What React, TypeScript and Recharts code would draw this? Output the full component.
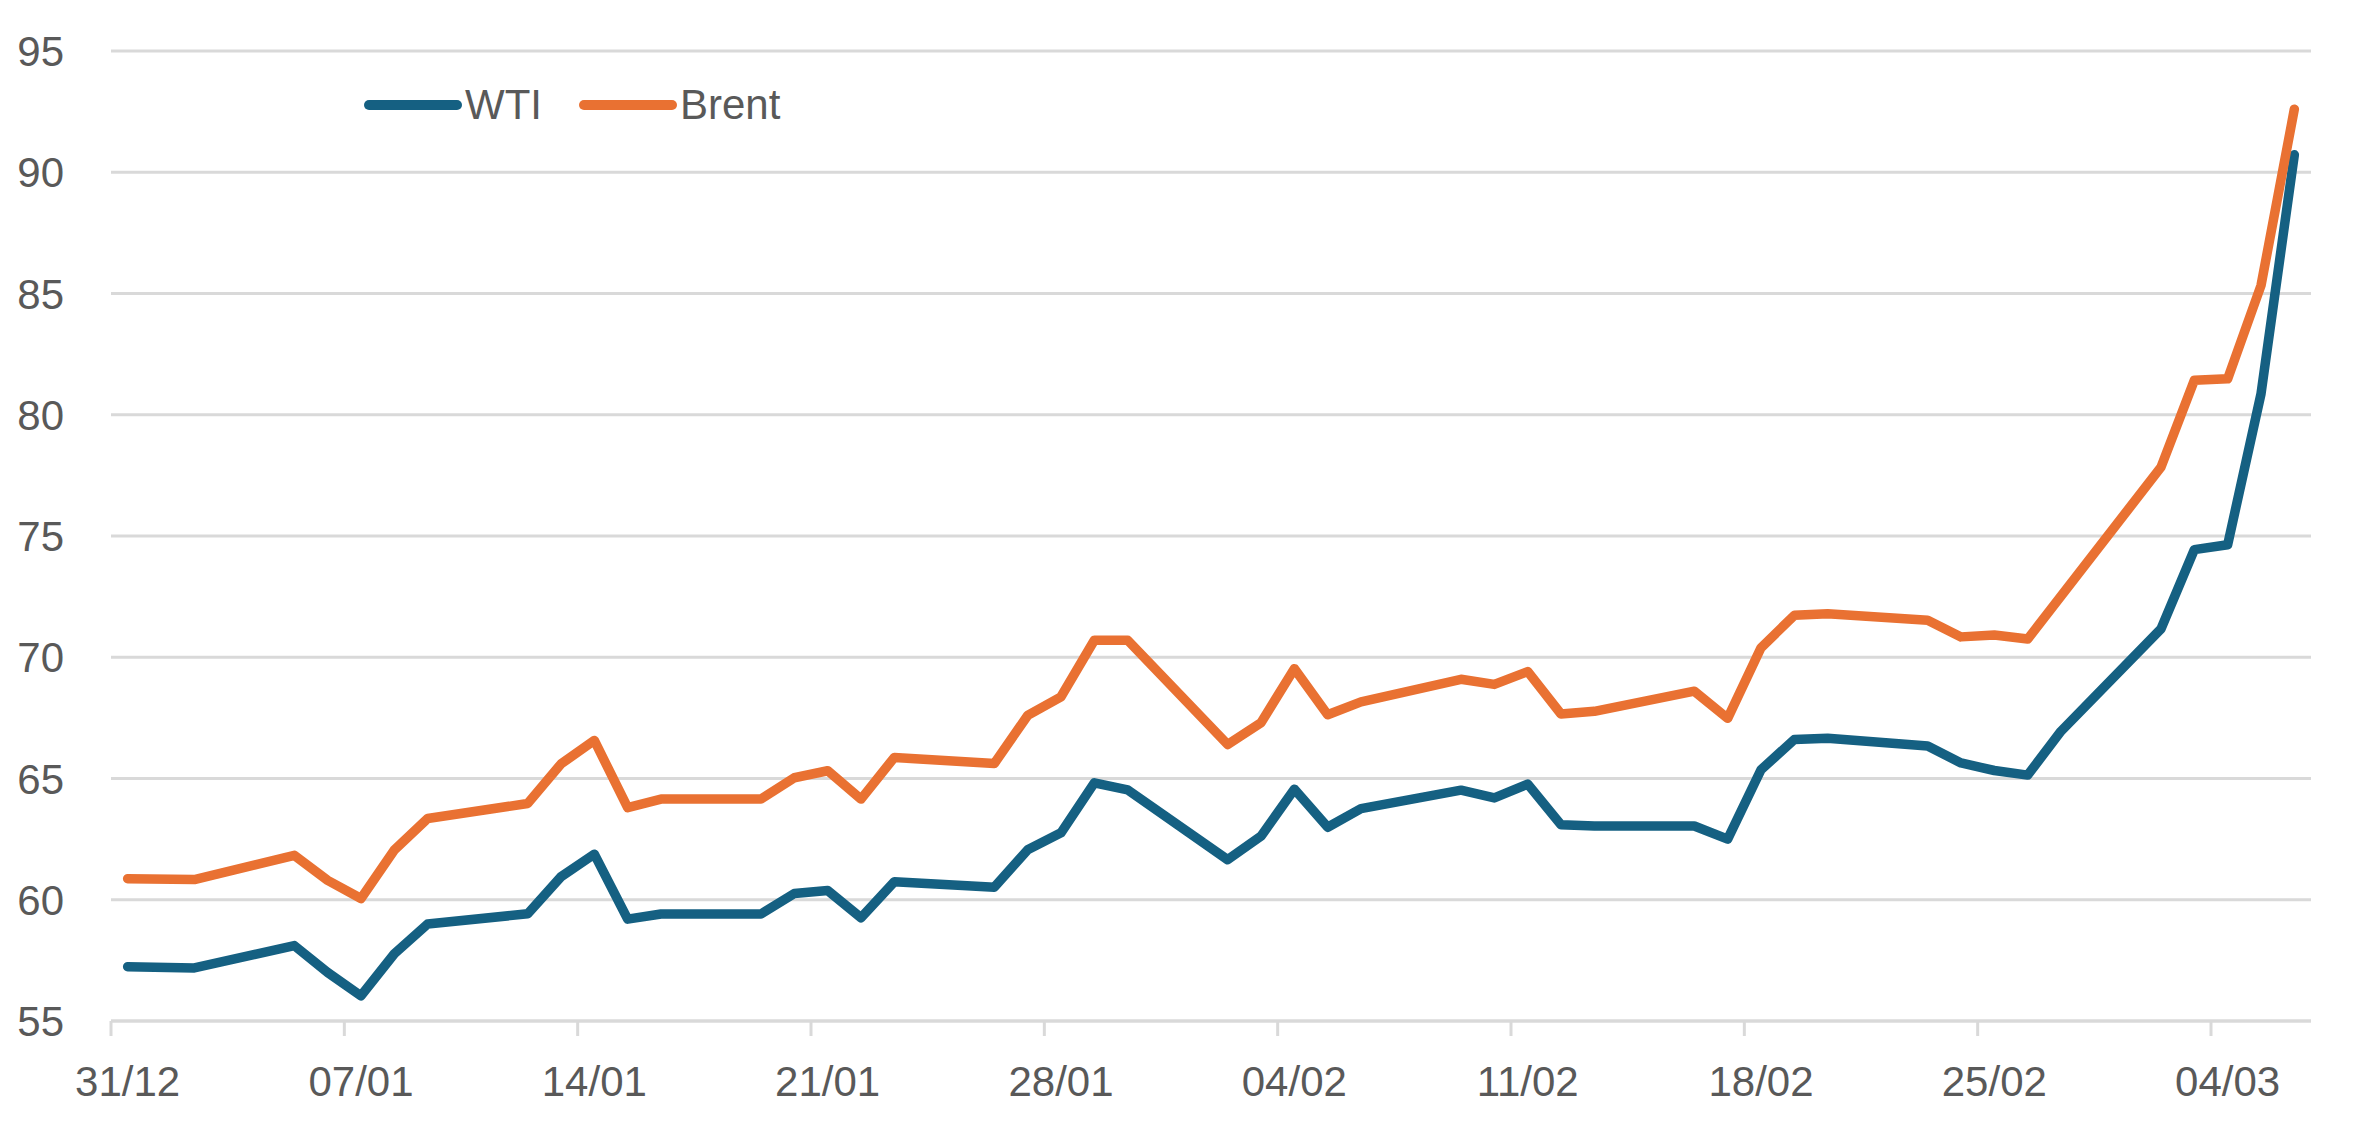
import React from 'react';
import { LineChart, Line, XAxis, YAxis, CartesianGrid, Legend } from 'recharts';

// trading days, counted from 31/12
const dayIndex = [
  0, 2, 5, 6, 7, 8, 9, 12, 13, 14, 15, 16, 19, 20, 21, 22, 23, 26, 27, 28, 29, 30, 33, 34,
  35, 36, 37, 40, 41, 42, 43, 44, 47, 48, 49, 50, 51, 54, 55, 56, 57, 58, 61, 62, 63, 64, 65,
];

const wti = [
  57.24, 57.19, 58.11, 57.0, 56.04, 57.77, 59.0, 59.42, 60.95, 61.88, 59.2, 59.41, 59.41, 60.26,
  60.38, 59.26, 60.74, 60.52, 62.06, 62.76, 64.82, 64.53, 61.65, 62.62, 64.56, 62.99, 63.76,
  64.52, 64.2, 64.77, 63.09, 63.04, 63.04, 62.5, 65.36, 66.61, 66.66, 66.34, 65.64, 65.33,
  65.14, 66.95, 71.17, 74.44, 74.64, 80.86, 90.72,
];

const brent = [
  60.87, 60.83, 61.83, 60.8, 60.05, 62.05, 63.35, 63.97, 65.6, 66.57, 63.8, 64.15, 64.15, 65.03,
  65.32, 64.15, 65.87, 65.62, 67.6, 68.37, 70.7, 70.7, 66.4, 67.3, 69.53, 67.63, 68.16,
  69.09, 68.88, 69.41, 67.66, 67.77, 68.6, 67.48, 70.39, 71.73, 71.79, 71.53, 70.84, 70.92,
  70.75, null, 77.84, 81.42, 81.48, 85.33, 92.6,
];

const seriesNames = ['WTI', 'Brent'];
const seriesColors = ['#156082', '#E97132'];

const tickDays = [0, 7, 14, 21, 28, 35, 42, 49, 56, 63];
const tickLabels = ['31/12', '07/01', '14/01', '21/01', '28/01', '04/02', '11/02', '18/02', '25/02', '04/03'];
const yTicks = [55, 60, 65, 70, 75, 80, 85, 90, 95];

const W = 2362;
const H = 1131;
const Y_AXIS_W = 111;
const X_AXIS_H = 110;
const MARGIN = { top: 51, right: 51, bottom: 0, left: 0 };
const DAY_SLOTS = 66;
const HALF_DAY = (W - MARGIN.right - Y_AXIS_W) / DAY_SLOTS / 2;

const FONT = '"Liberation Sans", Arial, sans-serif';
const TEXT = '#595959';
const GRID = '#d9d9d9';

const data = dayIndex.map((d, i) => ({ x: d + 0.5, WTI: wti[i], Brent: brent[i] }));

const XTick = (props: any) => {
  const { x, y, payload } = props;
  const label = tickLabels[tickDays.indexOf(payload.value)];
  return (
    <g>
      <line x1={x} x2={x} y1={y} y2={y + 15} stroke={GRID} strokeWidth={3} />
      <text x={x + HALF_DAY} y={y + 75} textAnchor="middle" fill={TEXT} fontSize={42} fontFamily={FONT}>
        {label}
      </text>
    </g>
  );
};

const YTick = (props: any) => {
  const { y, payload } = props;
  return (
    <text x={64} y={y + 15} textAnchor="end" fill={TEXT} fontSize={42} fontFamily={FONT}>
      {payload.value}
    </text>
  );
};

const LegendContent = (props: any) => {
  const items = [...(props.payload || [])].sort(
    (a: any, b: any) => seriesNames.indexOf(a.value) - seriesNames.indexOf(b.value)
  );
  return (
    <div style={{ display: 'flex', alignItems: 'center', fontFamily: FONT, fontSize: 42, color: TEXT }}>
      {items.map((p: any) => (
        <div key={p.value} style={{ display: 'flex', alignItems: 'center', marginRight: 37 }}>
          <svg width={98} height={14}>
            <line x1={5} x2={93} y1={7} y2={7} stroke={p.color} strokeWidth={10} strokeLinecap="round" />
          </svg>
          <span style={{ marginLeft: 3 }}>{p.value}</span>
        </div>
      ))}
    </div>
  );
};

export default function App() {
  return (
    <div style={{ position: 'absolute', left: 0, top: 0, width: W, height: H, background: '#fff' }}>
      <LineChart width={W} height={H} data={data} margin={MARGIN}>
        <CartesianGrid horizontal vertical={false} stroke={GRID} strokeWidth={3} />
        <XAxis
          dataKey="x"
          type="number"
          domain={[0, DAY_SLOTS]}
          ticks={tickDays}
          height={X_AXIS_H}
          axisLine={{ stroke: GRID, strokeWidth: 3 }}
          tickLine={false}
          tickSize={0}
          tickMargin={0}
          tick={<XTick />}
          interval={0}
          allowDataOverflow
        />
        <YAxis
          type="number"
          domain={[55, 95]}
          ticks={yTicks}
          width={Y_AXIS_W}
          axisLine={false}
          tickLine={false}
          tick={<YTick />}
          interval={0}
        />
        <Legend
          layout="vertical"
          align="center"
          verticalAlign="middle"
          content={<LegendContent />}
          wrapperStyle={{ left: 364, top: 81, width: 'auto', height: 'auto' }}
        />
        {seriesNames.map((name, i) => (
          <Line
            key={name}
            dataKey={name}
            stroke={seriesColors[i]}
            strokeWidth={9.5}
            strokeLinecap="round"
            strokeLinejoin="round"
            dot={false}
            activeDot={false}
            connectNulls
            isAnimationActive={false}
          />
        ))}
      </LineChart>
    </div>
  );
}
